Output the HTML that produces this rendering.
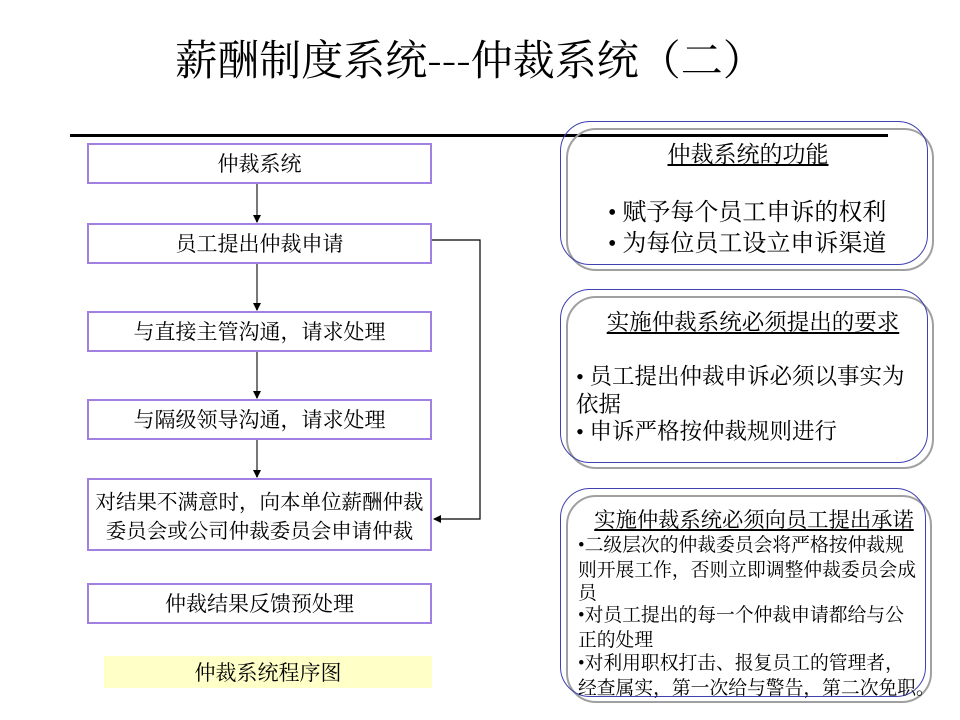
<!DOCTYPE html>
<html lang="zh-CN"><head><meta charset="utf-8"><style>
body{margin:0;width:960px;height:720px;background:#fff;position:relative;overflow:hidden;font-family:"Noto Serif CJK SC","Liberation Serif",serif;color:#000}
.a{position:absolute;box-sizing:border-box}
.b{border:2px solid #a080e0;display:flex;align-items:center;justify-content:center;text-align:center;font-size:21px;line-height:29px;background:#fff;white-space:nowrap}
.r1{border:1.5px solid #4040b0;border-radius:30px}
.r2{border:2px solid #a0a0a0;border-radius:30px}
.t{position:absolute;font-size:20px;line-height:26px}
u{text-decoration:underline}
i{font-style:normal;font-family:"Liberation Serif",serif}
</style></head><body>
<div class="a" style="left:0;top:28px;width:940px;text-align:center;font-size:42px;line-height:60px;white-space:nowrap">薪酬制度系统---仲裁系统（二）</div>
<div class="a" style="left:70px;top:134px;width:818px;height:3px;background:#000"></div>

<div class="a b" style="left:87px;top:143px;width:345px;height:41px">仲裁系统</div>
<div class="a b" style="left:87px;top:223px;width:345px;height:41px">员工提出仲裁申请</div>
<div class="a b" style="left:87px;top:311px;width:345px;height:41px">与直接主管沟通，请求处理</div>
<div class="a b" style="left:87px;top:399px;width:345px;height:41px">与隔级领导沟通，请求处理</div>
<div class="a b" style="left:87px;top:478px;width:345px;height:73px;font-size:20.5px">对结果不满意时，向本单位薪酬仲裁<br>委员会或公司仲裁委员会申请仲裁</div>
<div class="a b" style="left:87px;top:583px;width:345px;height:41px">仲裁结果反馈预处理</div>
<div class="a" style="left:104px;top:656px;width:328px;height:32px;background:#ffffc8;text-align:center;font-size:21px;line-height:32px">仲裁系统程序图</div>

<svg class="a" style="left:0;top:0" width="960" height="720">
<defs><marker id="m" markerWidth="8" markerHeight="8" refX="7" refY="4" orient="auto" markerUnits="userSpaceOnUse"><path d="M0,0L8,4L0,8z" fill="#000"/></marker></defs>
<g stroke="#777" stroke-width="2" marker-end="url(#m)">
<line x1="257" y1="184" x2="257" y2="222"/>
<line x1="257" y1="264" x2="257" y2="310"/>
<line x1="257" y1="352" x2="257" y2="398"/>
<line x1="257" y1="440" x2="257" y2="477"/>
</g>
<polyline points="432,240 480,240 480,519 434,519" fill="none" stroke="#000" stroke-width="1.2" marker-end="url(#m)"/>
</svg>

<div class="a r2" style="left:566px;top:128px;width:368px;height:143px"></div>
<div class="a r1" style="left:560px;top:121px;width:368px;height:144px"></div>
<div class="t" style="left:560px;top:138px;width:376px;text-align:center;font-size:23px;line-height:30px;white-space:nowrap"><u>仲裁系统的功能</u></div>
<div class="t" style="left:608px;top:196px;font-size:24px;line-height:28px;white-space:nowrap"><i>• </i>赋予每个员工申诉的权利<br><i>• </i>为每位员工设立申诉渠道</div>

<div class="a r2" style="left:566px;top:296px;width:368px;height:173px"></div>
<div class="a r1" style="left:560px;top:289px;width:368px;height:174px"></div>
<div class="t" style="left:560px;top:306px;width:386px;text-align:center;font-size:22.5px;line-height:30px;white-space:nowrap"><u>实施仲裁系统必须提出的要求</u></div>
<div class="t" style="left:576px;top:362px;width:340px;font-size:22.5px;line-height:27px"><i>• </i>员工提出仲裁申诉必须以事实为依据<br><i>• </i>申诉严格按仲裁规则进行</div>

<div class="a r2" style="left:566px;top:495px;width:366px;height:208px"></div>
<div class="a r1" style="left:560px;top:488px;width:366px;height:209px"></div>
<div class="t" style="left:560px;top:506px;width:388px;text-align:center;font-size:21.3px;line-height:26px;white-space:nowrap"><u>实施仲裁系统必须向员工提出承诺</u></div>
<div class="t" style="left:578px;top:533px;font-size:18.8px;line-height:22.8px;white-space:nowrap"><i>•</i>二级层次的仲裁委员会将严格按仲裁规<br>则开展工作，否则立即调整仲裁委员会成<br>员<br><i>•</i>对员工提出的每一个仲裁申请都给与公<br>正的处理<br><i>•</i>对利用职权打击、报复员工的管理者，<br>经查属实，第一次给与警告，第二次免职。</div>
</body></html>
